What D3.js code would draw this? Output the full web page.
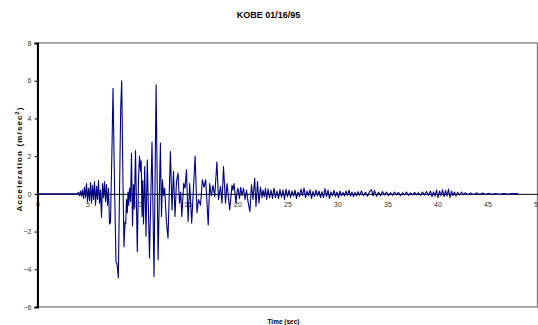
<!DOCTYPE html>
<html><head><meta charset="utf-8">
<script src="https://cdn.jsdelivr.net/npm/d3@7"></script>
<style>
body{margin:0;background:#fff}
svg{display:block}
text{font-family:Arial,"Liberation Sans",sans-serif}
</style>
</head><body>
<svg id="c" width="538" height="325"></svg>
<script>
const chartTitle = "KOBE 01/16/95";
const xTitle = "Time (sec)";
const yTitleMain = "Acceleration (m/sec";
const yTitleSup = "2";
const xTicks = [0,5,10,15,20,25,30,35,40,45,50];
const yTicks = [-6,-4,-2,0,2,4,6,8];

const time = [
0,4.0,4.1,4.2,4.3,4.4,4.5,4.6,4.7,4.8,
4.9,5.0,5.1,5.2,5.3,5.4,5.5,5.6,5.7,5.8,
5.9,6.0,6.1,6.2,6.3,6.4,6.5,6.6,6.7,6.8,
6.9,7.0,7.1,7.2,7.3,7.45,7.55,7.7,7.85,7.95,
8.08,8.2,8.32,8.42,8.55,8.65,8.75,8.82,8.9,8.98,
9.05,9.12,9.2,9.3,9.4,9.5,9.6,9.68,9.8,9.98,
10.1,10.2,10.3,10.37,10.45,10.52,10.6,10.72,10.85,10.98,
11.2,11.45,11.65,11.86,12.06,12.29,12.4,12.5,12.6,12.72,
12.88,13.05,13.29,13.45,13.6,13.75,13.9,14.05,14.2,14.32,
14.43,14.62,14.75,14.9,15.06,15.22,15.42,15.76,15.95,16.1,
16.3,16.49,16.65,16.82,17.07,17.22,17.38,17.55,17.72,17.94,
18.1,18.3,18.45,18.6,18.8,18.95,19.22,19.45,19.55,19.65,
19.85,19.95,20.05,20.2,20.32,20.45,20.6,20.75,20.9,21.05,
21.24,21.4,21.55,21.72,21.85,22.0,22.15,22.3,22.45,22.55,
22.68,22.8,22.92,23.05,23.2,23.35,23.5,23.65,23.8,23.95,
24.1,24.25,24.4,24.55,24.7,24.85,25.0,25.15,25.3,25.45,
25.6,25.75,25.9,26.05,26.2,26.35,26.5,26.65,26.8,26.95,
27.1,27.25,27.4,27.55,27.7,27.85,28.0,28.15,28.3,28.45,
28.6,28.75,28.9,29.05,29.2,29.35,29.5,29.65,29.8,29.95,
30.1,30.25,30.4,30.55,30.7,30.85,31.0,31.15,31.3,31.45,
31.6,31.75,31.9,32.05,32.2,32.4,32.6,32.8,33.0,33.2,
33.4,33.55,33.7,33.9,34.1,34.3,34.5,34.7,34.9,35.1,
35.3,35.5,35.7,35.9,36.1,36.3,36.5,36.7,36.9,37.1,
37.3,37.5,37.7,37.9,38.1,38.3,38.5,38.7,38.9,39.1,
39.3,39.45,39.6,39.75,39.9,40.05,40.2,40.35,40.5,40.65,
40.8,40.95,41.1,41.25,41.4,41.55,41.7,41.85,42.0,42.2,
42.4,42.6,42.8,43.0,43.3,43.6,43.9,44.2,44.5,44.8,
45.1,45.4,45.8,46.2,46.6,47.0,47.5,48.1
];
const accel = [
0,0,0.08,-0.1,0.15,-0.12,0.22,-0.25,0.35,-0.2,
0.55,-0.4,0.3,-0.35,0.6,-0.5,0.45,-0.3,0.65,-0.6,
0.4,-0.3,0.7,-0.5,0.2,-1.25,0.55,-0.2,0.65,-0.4,
0.5,-0.6,0.3,-1.6,-1.5,2.5,5.6,0.5,-3.6,-3.7,
-4.45,0,4.5,6.0,0.5,-2.8,-1.5,-1.6,-0.3,-1.0,
0.1,-0.6,0.3,-0.4,2.15,-1.7,0.5,-0.8,2.3,-3.05,
0.8,2.0,1.2,1.75,-1.2,0.7,-1.6,1.45,-2.25,1.8,
-3.4,2.75,-4.38,5.78,-3.5,2.7,-1.2,0.75,-0.1,0.3,
-1.4,-2.35,2.25,-0.85,1.2,-1.2,0.65,1.1,-0.5,0.1,
-1.2,0.55,0.3,1.27,-1.47,0.55,-1.55,2.0,-1.0,-0.3,
-0.6,0.75,0.35,0.75,-1.65,0.55,-0.1,0.45,-0.15,1.7,
-0.3,0.4,-0.5,1.45,-0.5,0.55,-0.85,0.45,0.2,0.55,
-0.5,0.1,0.3,-0.25,0.35,-0.1,0.3,-0.3,0.2,-0.4,
-0.94,0.48,-0.3,0.83,-0.67,0.65,-0.5,0.35,-0.2,0.2,
-0.15,0.3,-0.3,0.25,-0.2,0.2,-0.25,0.3,-0.2,0.15,
-0.25,0.22,-0.18,0.2,-0.3,0.25,-0.15,0.2,-0.2,0.15,
-0.12,0.2,-0.25,0.1,-0.15,0.25,-0.1,0.3,-0.2,0.15,
-0.1,0.22,-0.25,0.12,-0.15,0.2,-0.1,0.15,-0.2,0.12,
-0.2,0.28,-0.15,0.2,-0.25,0.1,-0.1,0.18,-0.15,0.1,
-0.2,0.15,-0.1,0.08,-0.12,0.15,-0.08,0.2,-0.12,0.1,
-0.15,0.08,-0.1,0.12,-0.08,0.15,-0.1,0.08,-0.12,0.1,
0.22,-0.1,0.18,-0.12,0.08,-0.1,0.12,-0.06,0.1,-0.1,
0.06,-0.08,0.1,-0.05,0.08,-0.1,0.06,-0.05,0.1,-0.08,
0.05,-0.06,0.08,-0.05,0.06,-0.08,0.1,-0.06,0.12,-0.08,
0.15,-0.15,0.1,-0.12,0.2,-0.2,0.15,-0.1,0.22,-0.15,
0.18,-0.12,0.25,-0.2,0.15,-0.1,0.1,-0.12,0.08,-0.06,
0.1,-0.05,0.06,-0.05,0.05,-0.04,0.05,-0.03,0.04,-0.03,
0.03,-0.02,0.02,-0.02,0.02,-0.01,0.01,0
];

const W = 538, H = 325;
const m = {left: 37.5, right: 537.5, top: 43, bottom: 307};
const svg = d3.select("#c");
svg.append("rect").attr("width", W).attr("height", H).attr("fill", "#fff");

const x = d3.scaleLinear().domain([0, 50]).range([m.left, m.right]);
const y = d3.scaleLinear().domain([-6, 8]).range([m.bottom, m.top]);

// plot area border
svg.append("rect")
  .attr("x", m.left).attr("y", m.top)
  .attr("width", m.right - m.left).attr("height", m.bottom - m.top)
  .attr("fill", "none").attr("stroke", "#808080").attr("stroke-width", 1.4);

// x axis crossing at zero
const xAxis = svg.append("g")
  .attr("transform", `translate(0,${y(0)})`)
  .call(d3.axisBottom(x).tickValues(xTicks).tickSize(0).tickPadding(8.5).tickFormat(d3.format("d")));
xAxis.select(".domain").attr("stroke", "#000").attr("stroke-width", 1);
xAxis.selectAll("text").attr("font-size", 7).attr("fill", "#333").attr("font-family", "Arial, 'Liberation Sans', sans-serif");

// data
const n = Math.min(time.length, accel.length);
const pts = d3.range(n).map(i => [time[i], accel[i]]);
svg.append("path")
  .datum(pts)
  .attr("fill", "none")
  .attr("stroke", "#000080")
  .attr("stroke-width", 1.1)
  .attr("stroke-linejoin", "round")
  .attr("d", d3.line().x(d => x(d[0])).y(d => y(d[1])));

// y axis
const yAxis = svg.append("g")
  .attr("transform", `translate(${m.left},0)`)
  .call(d3.axisLeft(y).tickValues(yTicks).tickSize(3).tickPadding(3).tickFormat(d3.format("d")));
yAxis.select(".domain").attr("stroke", "#000").attr("stroke-width", 2);
yAxis.selectAll(".tick line").attr("stroke", "#000");
yAxis.selectAll("text").attr("font-size", 7).attr("fill", "#333").attr("font-family", "Arial, 'Liberation Sans', sans-serif");

// titles
svg.append("text")
  .attr("x", 268.5).attr("y", 18.3)
  .attr("text-anchor", "middle")
  .attr("font-size", 9).attr("font-weight", "bold").attr("fill", "#000")
  .text(chartTitle);

svg.append("text")
  .attr("x", 283.5).attr("y", 324)
  .attr("text-anchor", "middle")
  .attr("font-size", 6.5).attr("font-weight", "bold").attr("fill", "#000")
  .text(xTitle);

const yt = svg.append("text")
  .attr("transform", "translate(21.5,159.5) rotate(-90)")
  .attr("text-anchor", "middle")
  .attr("font-size", 8).attr("font-weight", "bold").attr("fill", "#000")
  .attr("textLength", 104).attr("lengthAdjust", "spacing");
yt.append("tspan").text(yTitleMain);
yt.append("tspan").attr("font-size", 5.5).attr("dy", -3).text(yTitleSup);
yt.append("tspan").attr("dy", 3).text(")");
</script>
</body></html>
